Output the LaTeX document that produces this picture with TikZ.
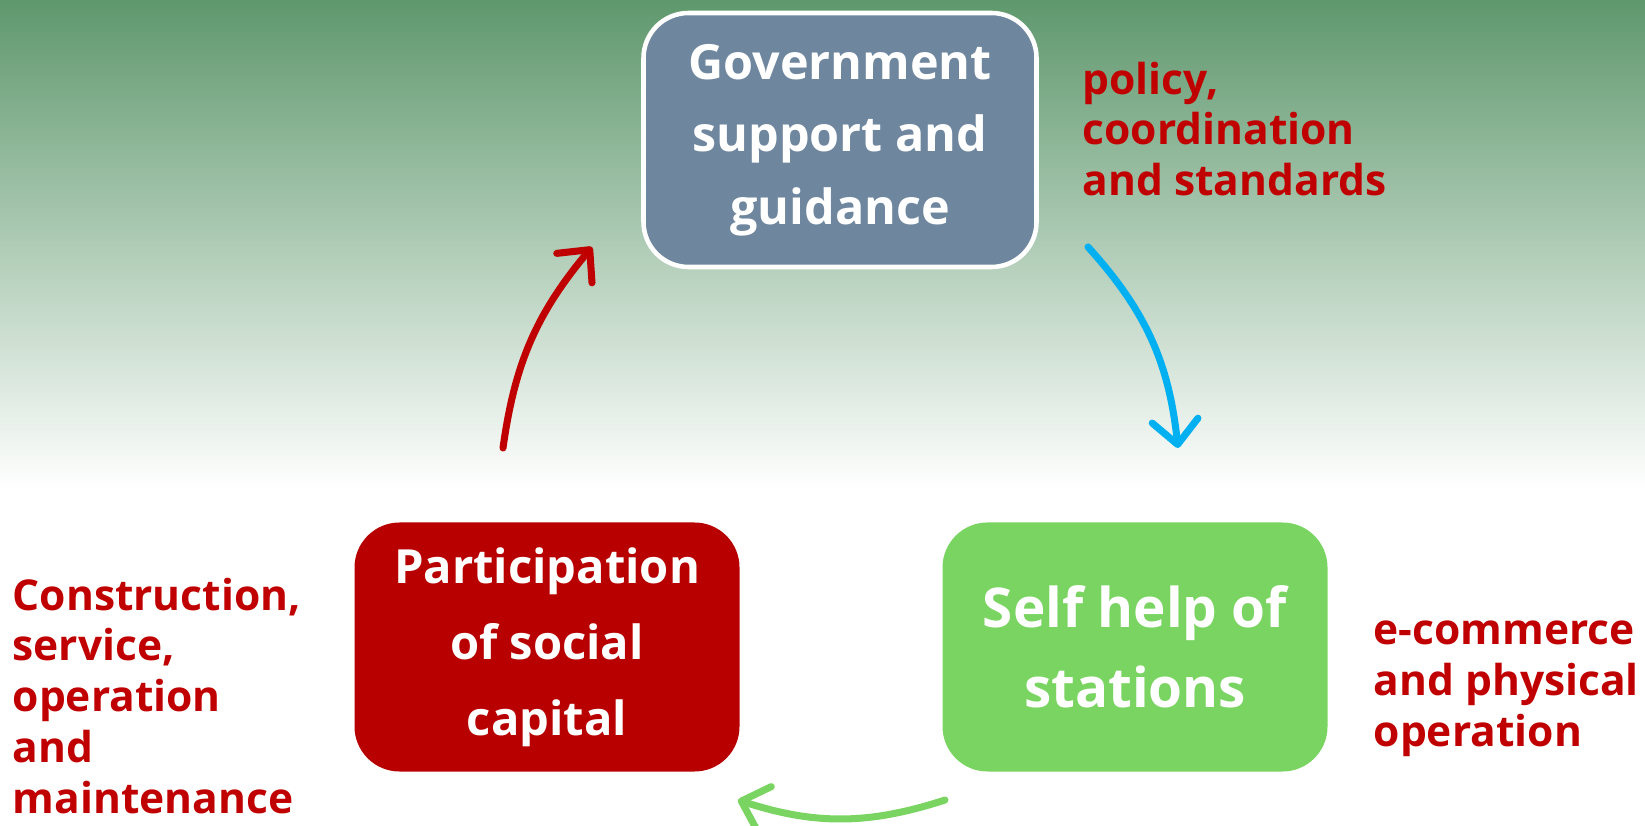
\documentclass[tikz,border=0pt]{standalone}
\usepackage{fontspec}
\setmainfont{Open Sans}
\usetikzlibrary{arrows.meta}
\definecolor{topgreen}{HTML}{5F986D}
\definecolor{govblue}{HTML}{6E869E}
\definecolor{socialred}{HTML}{B80000}
\definecolor{selfgreen}{HTML}{7AD461}
\definecolor{notered}{HTML}{C00000}
\definecolor{flowblue}{HTML}{00B0F0}
\begin{document}
\begin{tikzpicture}[x=0.1mm,y=-0.1mm,
	box/.style={rounded corners=4.5mm,text=white,align=center,inner sep=0,
		minimum width=38.5mm,minimum height=24.9mm},
	note/.style={text=notered,align=left,anchor=north west,inner sep=0,
		font=\bfseries\fontsize{12.1}{14.5}\selectfont},
	flow/.style={line width=2pt,line cap=round,
		-{Straight Barb[length=2.4mm,width=4.6mm,round]}}]
\useasboundingbox (0,0) rectangle (1645,826);
\clip (0,0) rectangle (1645,826);
\shade[top color=topgreen,bottom color=white] (0,0) rectangle (1645,490);

% the three parties
\node[box,fill=govblue,draw=white,line width=1.3pt,minimum width=39.3mm,minimum height=25.4mm,
	font=\bfseries\fontsize{13.8}{20.6}\selectfont] (gov) at (840,140) {Government\\support and\\guidance};
\node[box,fill=socialred,font=\bfseries\fontsize{13.4}{21.6}\selectfont] (social) at (547,647) {Participation\\of social\\capital};
\node[box,fill=selfgreen,font=\bfseries\fontsize{15.6}{22.8}\selectfont] (self) at (1135,647) {Self help of\\stations};

% what each one brings
\node[note] (govnote) at (1082,61) {policy,\\coordination\\and standards};
\node[note] (socialnote) at (12,577) {Construction,\\service,\\operation\\and\\maintenance};
\node[note] (selfnote) at (1373,620) {e-commerce\\and physical\\operation};

% the cycle
\coordinate (social tail) at (503,448);
\coordinate (gov head) at (592,247);
\coordinate (gov tail) at (1088,247);
\coordinate (self head) at (1178,448);
\coordinate (self tail) at (945,800);
\coordinate (social head) at (738,800);
\draw[flow,notered] (social tail) to[bend left=16] (gov head);
\draw[flow,flowblue] (gov tail) to[bend left=18] (self head);
\draw[flow,selfgreen] (self tail) to[bend left=18] (social head);
\end{tikzpicture}
\end{document}
